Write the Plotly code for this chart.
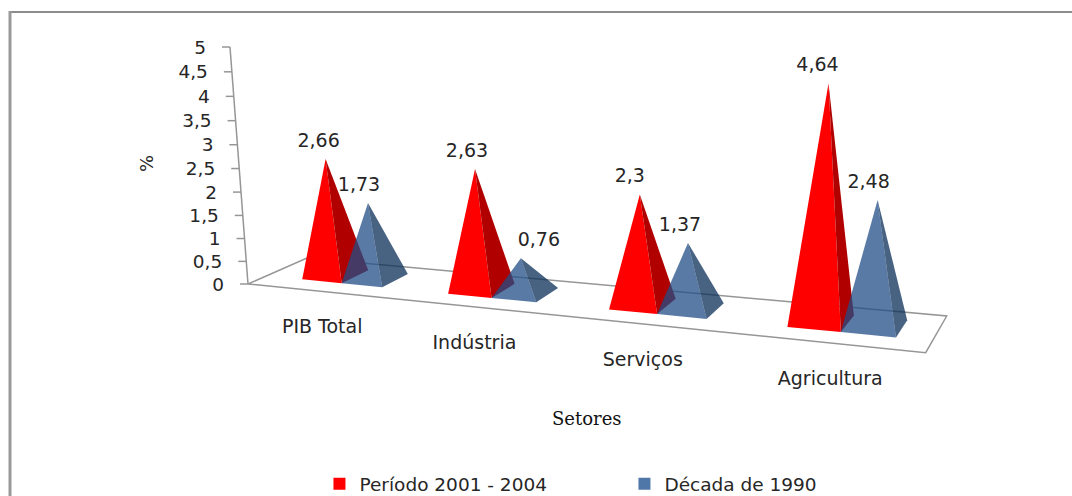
import numpy as np
import plotly.graph_objects as go

categories = ["PIB Total", "Indústria", "Serviços", "Agricultura"]
series_names = ["Período 2001 - 2004", "Década de 1990"]
periodo = [2.66, 2.63, 2.3, 4.64]
decada = [1.73, 0.76, 1.37, 2.48]
value_ticks = [0, 0.5, 1, 1.5, 2, 2.5, 3, 3.5, 4, 4.5, 5]

W, H = 1072, 496
FLOOR = [(248, 284), (925.7, 352.7), (946.7, 316), (307, 258)]  # u,w corners of floor in the picture
VVP = (590, 4787)      # vanishing point of verticals
LAM = -0.01
DEPTH_SHRINK = 0.085   # value scale gets smaller towards the back of the floor
LABEL_DX = [[-7, -8, -10, -11], [-9, 18, -8, -9]]


def floor_h():
    src = [(0, 0), (1, 0), (1, 1), (0, 1)]
    A, b = [], []
    for (u, w), (x, y) in zip(src, FLOOR):
        A.append([u, w, 1, 0, 0, 0, -u * x, -w * x]); b.append(x)
        A.append([0, 0, 0, u, w, 1, -u * y, -w * y]); b.append(y)
    s = np.linalg.solve(np.array(A, float), np.array(b, float))
    return np.array([[s[0], s[1], s[2]], [s[3], s[4], s[5]], [s[6], s[7], 1.0]])


HM = floor_h()
VCOL = LAM * np.array([VVP[0], VVP[1], 1.0])


def project(u, w, v=0.0):
    p = HM @ np.array([u, w, 1.0]) + v * (1 - DEPTH_SHRINK * w) * VCOL
    return p[0] / p[2], p[1] / p[2]


W0, W1 = 0.30, 0.78
BAR = 0.28
SHIFT = 0.01
APEX_LEAN = -0.006


def bar_u(i, s):
    c = (i + 0.5) / 4 + SHIFT
    half = BAR / 4
    return (c - half, c) if s == 0 else (c, c + half)


fig = go.Figure()
GRAY = "#969696"

def line(pts, color=GRAY, width=1.5):
    xs, ys = zip(*pts)
    fig.add_trace(go.Scatter(x=xs, y=ys, mode="lines", line=dict(color=color, width=width),
                             showlegend=False, hoverinfo="skip"))

def poly(pts, color):
    xs, ys = zip(*pts)
    fig.add_trace(go.Scatter(x=list(xs) + [xs[0]], y=list(ys) + [ys[0]], mode="lines", fill="toself",
                             fillcolor=color, line=dict(width=0), showlegend=False, hoverinfo="skip"))

# floor and value axis
line([project(0, 0), project(1, 0), project(1, 1), project(0, 1), project(0, 0)])
line([project(0, 0), project(0, 0, 5)])
tx, ty, tl = [], [], []
for t in value_ticks:
    x, y = project(0, 0, t)
    line([(x, y), (x - 8, y)])
    tx.append(x - 24); ty.append(y + 2); tl.append(str(t).replace(".", ","))
fig.add_trace(go.Scatter(x=tx, y=ty, text=tl, mode="text", textposition="middle left",
                         textfont=dict(family="DejaVu Sans", size=18.5, color="#262626"),
                         showlegend=False, hoverinfo="skip"))

STYLES = [("#ff0000", "#b00000"), ("rgba(32,78,135,0.75)", "rgba(11,46,88,0.75)")]
lx, ly, lt = [], [], []
for s, values in enumerate([periodo, decada]):
    for i, val in enumerate(values):
        u0, u1 = bar_u(i, s)
        fl, fr, br = project(u0, W0), project(u1, W0), project(u1, W1)
        apex = project((u0 + u1) / 2 + APEX_LEAN, (W0 + W1) / 2, val)
        poly([fl, fr, apex], STYLES[s][0])
        poly([fr, br, apex], STYLES[s][1])
        lx.append(apex[0] + LABEL_DX[s][i]); ly.append(apex[1] - 17); lt.append(str(val).replace(".", ","))
fig.add_trace(go.Scatter(x=lx, y=ly, text=lt, mode="text", textposition="middle center",
                         textfont=dict(family="DejaVu Sans", size=19, color="#262626"),
                         showlegend=False, hoverinfo="skip"))

cx, cy = [], []
for i in range(4):
    x, y = project((i + 0.5) / 4 + SHIFT, 0)
    cx.append(x - 2); cy.append(y + 37)
fig.add_trace(go.Scatter(x=cx, y=cy, text=categories, mode="text", textposition="middle center",
                         textfont=dict(family="DejaVu Sans", size=19, color="#262626"),
                         showlegend=False, hoverinfo="skip"))

# legend entries
for name, c in zip(series_names, ["#ff0000", "#4f78a8"]):
    fig.add_trace(go.Scatter(x=[None], y=[None], mode="markers", name=name,
                             marker=dict(symbol="square", size=13, color=c)))

fig.update_layout(
    width=W, height=H, autosize=False, margin=dict(l=0, r=0, t=0, b=0, autoexpand=False),
    paper_bgcolor="white", plot_bgcolor="white", hovermode=False,
    xaxis=dict(range=[0, W], visible=False, fixedrange=True),
    yaxis=dict(range=[H, 0], visible=False, fixedrange=True),
    legend=dict(orientation="h", x=0.298, y=0.062, xanchor="left", yanchor="top",
                font=dict(family="DejaVu Sans", size=18.5, color="#262626"),
                entrywidth=260, entrywidthmode="pixels", bgcolor="rgba(0,0,0,0)", itemsizing="constant"),
    shapes=[dict(type="line", xref="x", yref="y", x0=x0, y0=y0, x1=x1, y1=y1, line=dict(color=c, width=w))
            for x0, y0, x1, y1, c, w in [(9, 12, W, 12, "#8c8c8c", 2), (10, 11, 10, H, "#9a9a9a", 3)]],
    annotations=[
        dict(x=146, y=164, xref="x", yref="y", text="%", textangle=-90, showarrow=False,
             font=dict(family="DejaVu Sans", size=18, color="#262626")),
        dict(x=587, y=418, xref="x", yref="y", text="Setores", showarrow=False,
             font=dict(family="DejaVu Serif", size=18, color="#111111")),
    ],
)
fig.write_html("out.html", config={"displayModeBar": False},
               post_script="document.body.style.margin='0';")
